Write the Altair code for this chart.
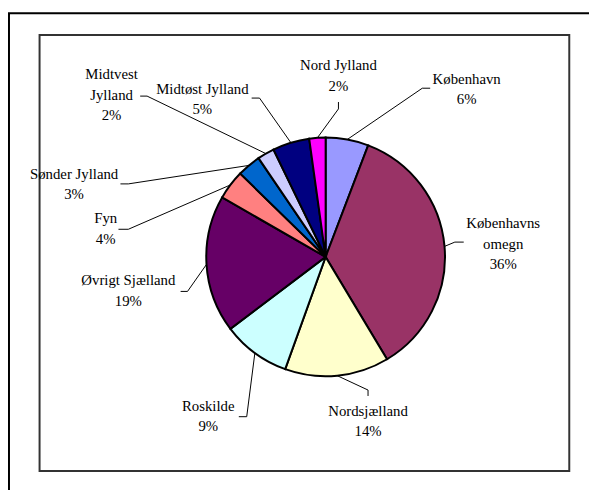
import math
import altair as alt
import pandas as pd

# ---------------- data ----------------
regions = ["København", "Københavns omegn", "Nordsjælland", "Roskilde",
           "Øvrigt Sjælland", "Fyn", "Sønder Jylland", "Midtvest Jylland",
           "Midtøst Jylland", "Nord Jylland"]
shares = [5.8, 35.6, 14.1, 9.2, 18.6, 4.0, 3.2, 2.3, 5.0, 2.2]
colors = ["#9999FF", "#993366", "#FFFFCC", "#CCFFFF", "#660066",
          "#FF8080", "#0066CC", "#CCCCFF", "#000080", "#FF00FF"]
label_lines = [["København"], ["Københavns", "omegn"], ["Nordsjælland"],
               ["Roskilde"], ["Øvrigt Sjælland"], ["Fyn"], ["Sønder Jylland"],
               ["Midtvest", "Jylland"], ["Midtøst Jylland"], ["Nord Jylland"]]

# ---------------- layout (page pixels) ----------------
W, H = 589, 482
CX, CY, R = 330, 257, 121
LH = 20.5
FONT = "Liberation Serif, Times New Roman, DejaVu Serif, serif"
label_pos = [(473, 77), (510, 223), (373, 413), (211, 408), (130, 281),
             (107, 218), (75, 173), (113, 72), (205, 87), (343, 63)]
leader_pts = [[(428, 86), (436, 86)], [(461, 242), (470, 242)],
              [(373, 392), (373, 398)], [(250, 419), (242, 419)],
              [(190, 292), (183, 292)], [(130, 229), (120, 229)],
              [(130, 183), (122, 183)], [(149, 94), (142, 94)],
              [(263, 96), (255, 96)], [(343, 107), (343, 100)]]

xs = alt.Scale(domain=[8, 8 + W], range=[0, W], zero=False, nice=False)
ys = alt.Scale(domain=[8, 8 + H], range=[0, H], zero=False, nice=False)

total = sum(shares)
pie_df = pd.DataFrame({"region": regions, "share": shares, "idx": range(len(regions))})

# label rows
text_rows = []
for i, (name, lines) in enumerate(zip(regions, label_lines)):
    pct = f"{round(shares[i] / total * 100)}%"
    x0, y0 = label_pos[i]
    for j, t in enumerate(lines + [pct]):
        text_rows.append({"region": name, "txt": t, "x": x0, "y": y0 + j * LH})
text_df = pd.DataFrame(text_rows)

# leader lines: from slice edge at mid-angle to elbow to label
line_rows = []
cum = 0.0
for i, name in enumerate(regions):
    mid = (cum + shares[i] / 2) / total * 2 * math.pi
    cum += shares[i]
    ex, ey = CX + R * math.sin(mid), CY - R * math.cos(mid)
    pts = [(ex, ey)] + leader_pts[i]
    for k, (px, py) in enumerate(pts):
        line_rows.append({"region": name, "k": k, "x": px, "y": py})
line_df = pd.DataFrame(line_rows)

frame_df = pd.DataFrame({"x": [9, 40], "y": [10, 32], "x2": [900, 577], "y2": [900, 474],
                         "kind": ["outer", "inner"]})

outer = alt.Chart(frame_df[frame_df.kind == "outer"]).mark_rect(
    fill="white", stroke="black", strokeWidth=2).encode(
    x=alt.X("x:Q", scale=xs, axis=None), y=alt.Y("y:Q", scale=ys, axis=None),
    x2="x2:Q", y2="y2:Q")

inner = alt.Chart(frame_df[frame_df.kind == "inner"]).mark_rect(
    fill="white", stroke="#333333", strokeWidth=2).encode(
    x=alt.X("x:Q", scale=xs, axis=None), y=alt.Y("y:Q", scale=ys, axis=None),
    x2="x2:Q", y2="y2:Q")

pie = alt.Chart(pie_df).mark_arc(outerRadius=R, stroke="black", strokeWidth=2).encode(
    theta=alt.Theta("share:Q", stack=True),
    order=alt.Order("idx:Q"),
    color=alt.Color("region:N", scale=alt.Scale(domain=regions, range=colors), legend=None),
    x=alt.X(datum=CX, type="quantitative", scale=xs, axis=None),
    y=alt.Y(datum=CY, type="quantitative", scale=ys, axis=None),
)

leaders = alt.Chart(line_df).mark_line(color="black", strokeWidth=1).encode(
    x=alt.X("x:Q", scale=xs, axis=None), y=alt.Y("y:Q", scale=ys, axis=None),
    detail="region:N", order="k:Q")

labels = alt.Chart(text_df).mark_text(font=FONT, fontSize=15, color="black",
                                      align="center", baseline="middle").encode(
    x=alt.X("x:Q", scale=xs, axis=None), y=alt.Y("y:Q", scale=ys, axis=None),
    text="txt:N")

chart = alt.layer(outer, inner, leaders, pie, labels).properties(
    width=W, height=H, padding=0, autosize=alt.AutoSizeParams(type="none"),
    background="white"
).configure_view(stroke=None)

chart.save("out.html", embed_options={"renderer": "svg", "actions": False})
